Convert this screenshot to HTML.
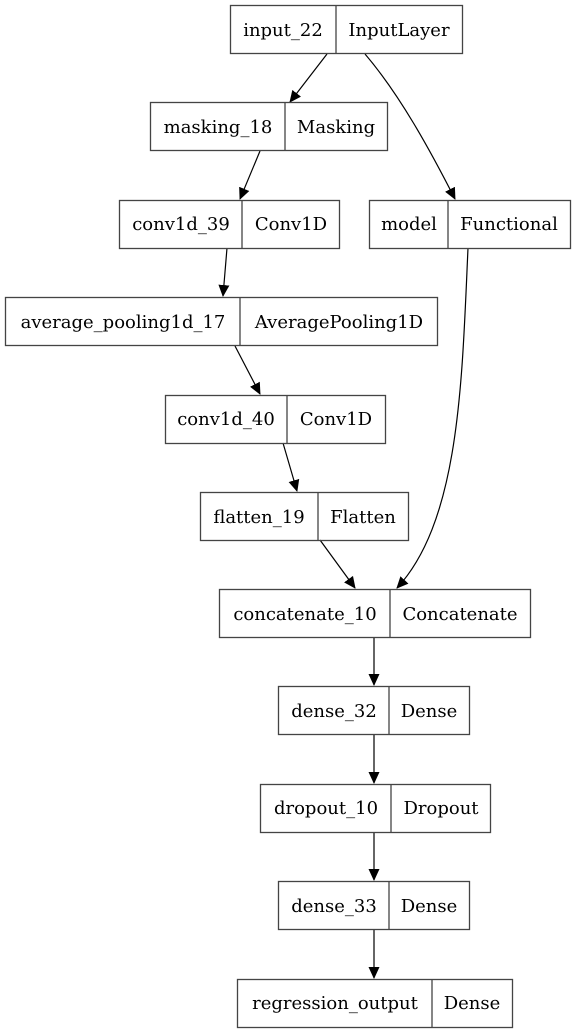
<!DOCTYPE html>
<html><head><style>body{margin:0;background:#fff}svg{display:block}</style></head><body>
<svg width="576" height="1033" xmlns="http://www.w3.org/2000/svg" font-family="DejaVu Serif, serif" font-size="18">
<defs><marker id="a" markerWidth="12" markerHeight="12" refX="11" refY="6" orient="auto" markerUnits="userSpaceOnUse"><path d="M0,0.5 L12,6 L0,11.5 z" fill="#000"/></marker></defs>
<g fill="none" stroke="#000" stroke-width="1.2" marker-end="url(#a)">
<path d="M327,54 L290,102"/>
<path d="M365,54 C400,95 430,150 455,199"/>
<path d="M260,151 L240,199"/>
<path d="M227,248 L223,296"/>
<path d="M235,346 L260,394"/>
<path d="M283,443 L297,491"/>
<path d="M320,540 L355,588"/>
<path d="M468,248 C462,380 460,520 397,588"/>
<path d="M374,638 L374,685"/>
<path d="M374,735 L374,783"/>
<path d="M374,832 L374,880"/>
<path d="M374,929 L374,978"/>
</g>
<g fill="none" stroke="#444" stroke-width="1.3">
<rect x="230.5" y="5.5" width="232" height="48"/><line x1="336" y1="5" x2="336" y2="54"/>
<rect x="150.5" y="102.5" width="237" height="48"/><line x1="285" y1="102" x2="285" y2="151"/>
<rect x="119.5" y="200.5" width="220" height="48"/><line x1="242" y1="200" x2="242" y2="249"/>
<rect x="369.5" y="200.5" width="201" height="48"/><line x1="448" y1="200" x2="448" y2="249"/>
<rect x="5.5" y="297.5" width="432" height="48"/><line x1="240" y1="297" x2="240" y2="346"/>
<rect x="165.5" y="395.5" width="220" height="48"/><line x1="287" y1="395" x2="287" y2="444"/>
<rect x="200.5" y="492.5" width="208" height="48"/><line x1="318" y1="492" x2="318" y2="541"/>
<rect x="219.5" y="589.5" width="311" height="48"/><line x1="390" y1="589" x2="390" y2="638"/>
<rect x="278.5" y="686.5" width="191" height="48"/><line x1="389" y1="686" x2="389" y2="735"/>
<rect x="260.5" y="784.5" width="230" height="48"/><line x1="391" y1="784" x2="391" y2="833"/>
<rect x="278.5" y="881.5" width="191" height="48"/><line x1="389" y1="881" x2="389" y2="930"/>
<rect x="237.5" y="979.5" width="275" height="48"/><line x1="432" y1="979" x2="432" y2="1028"/>
</g>
<g text-anchor="middle" fill="#000">
<text x="283" y="36">input_22</text><text x="399" y="36">InputLayer</text>
<text x="218" y="133">masking_18</text><text x="336" y="133">Masking</text>
<text x="181" y="230">conv1d_39</text><text x="291" y="230">Conv1D</text>
<text x="409" y="230">model</text><text x="509" y="230">Functional</text>
<text x="123" y="328">average_pooling1d_17</text><text x="339" y="328">AveragePooling1D</text>
<text x="226" y="425">conv1d_40</text><text x="336" y="425">Conv1D</text>
<text x="259" y="523">flatten_19</text><text x="363" y="523">Flatten</text>
<text x="305" y="620">concatenate_10</text><text x="460" y="620">Concatenate</text>
<text x="334" y="717">dense_32</text><text x="429" y="717">Dense</text>
<text x="326" y="814">dropout_10</text><text x="441" y="814">Dropout</text>
<text x="334" y="912">dense_33</text><text x="429" y="912">Dense</text>
<text x="335" y="1009">regression_output</text><text x="472" y="1009">Dense</text>
</g>
</svg>
</body></html>
